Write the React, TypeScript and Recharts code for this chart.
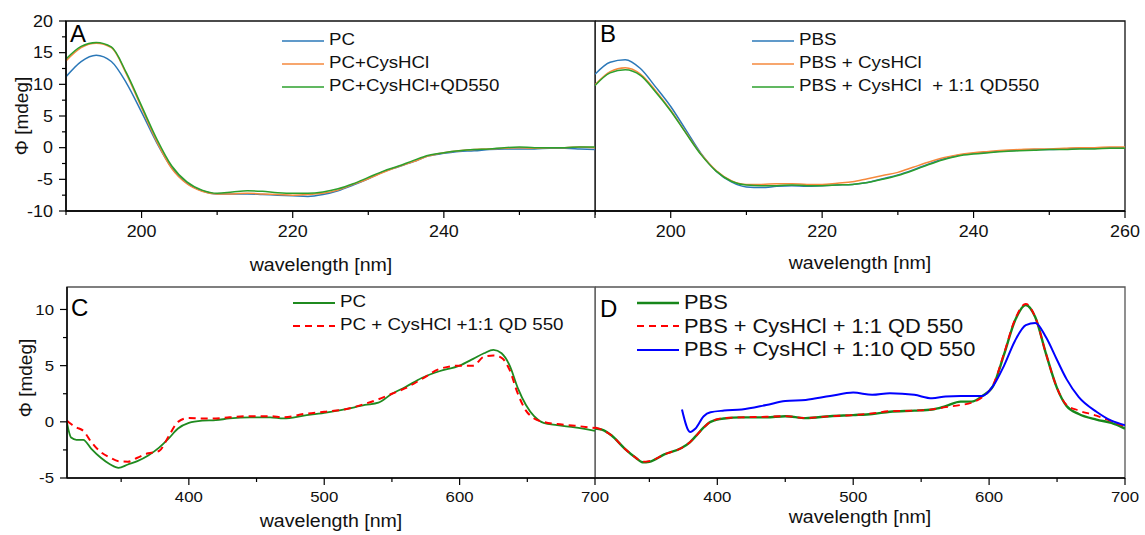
import React from "react";
import { LineChart, Line, XAxis, YAxis, Legend, ReferenceArea } from "recharts";

const FONT = '"Liberation Sans", Arial, Helvetica, sans-serif';
const SX = 1.12; // the source figure is a bit stretched sideways

// ---- far-UV CD, panels A and B (nm) ----
const wlFar = [
  190, 192, 194, 196, 198, 200, 202, 204, 206, 208, 210, 212, 214, 216, 218, 220, 222, 224,
  226, 228, 230, 232, 234, 236, 238, 240, 242, 244, 246, 248, 250, 252, 254, 256, 258, 260,
];

const pcA = [
  11.2, 13.6, 14.6, 13.6, 10.2, 5.6, 0.8, -3.2, -5.6, -6.8, -7.3, -7.3, -7.3, -7.4, -7.5, -7.6, -7.7, -7.4,
  -6.8, -5.9, -4.9, -3.8, -3.0, -2.2, -1.3, -0.9, -0.6, -0.5, -0.3, -0.2, -0.2, -0.2, -0.1, -0.1, -0.2, -0.3,
];
const pcCysA = [
  13.7, 15.8, 16.5, 15.8, 11.6, 6.3, 1.0, -3.3, -5.7, -6.9, -7.3, -7.3, -7.2, -7.3, -7.4, -7.5, -7.4, -7.2,
  -6.7, -5.8, -4.9, -3.9, -3.0, -2.2, -1.3, -0.8, -0.5, -0.3, -0.2, -0.1, 0.0, -0.1, 0.0, 0.0, 0.1, 0.0,
];
const pcCysQdA = [
  14.0, 16.0, 16.6, 15.9, 11.8, 6.6, 1.4, -2.9, -5.4, -6.7, -7.2, -7.0, -6.8, -6.9, -7.1, -7.2, -7.2, -7.0,
  -6.5, -5.7, -4.7, -3.7, -2.9, -2.0, -1.2, -0.8, -0.5, -0.3, -0.2, 0.0, 0.1, 0.0, 0.0, 0.0, 0.1, 0.1,
];

const pbsB = [
  11.6, 13.5, 13.9, 12.5, 9.6, 6.5, 2.8, -0.9, -3.7, -5.4, -6.2, -6.3, -6.1, -6.0, -6.1, -6.0, -5.9, -5.8,
  -5.5, -4.9, -4.3, -3.5, -2.6, -1.8, -1.2, -0.9, -0.7, -0.5, -0.4, -0.3, -0.3, -0.2, -0.1, -0.1, 0.0, 0.0,
];
const pbsCysB = [
  9.9, 12.0, 12.6, 11.6, 9.0, 5.9, 2.4, -1.0, -3.6, -5.2, -5.8, -5.8, -5.7, -5.7, -5.8, -5.8, -5.6, -5.4,
  -4.9, -4.4, -3.9, -3.1, -2.3, -1.6, -1.1, -0.8, -0.6, -0.4, -0.3, -0.2, -0.2, -0.1, 0.0, 0.0, 0.1, 0.1,
];
const pbsCysQdB = [
  9.8, 11.8, 12.3, 11.4, 8.8, 5.8, 2.3, -1.1, -3.7, -5.3, -5.9, -6.0, -6.0, -5.9, -6.0, -6.0, -5.9, -5.8,
  -5.5, -5.0, -4.4, -3.6, -2.7, -1.9, -1.3, -1.0, -0.8, -0.6, -0.5, -0.4, -0.3, -0.3, -0.2, -0.2, -0.1, -0.1,
];

// ---- visible CD, panel C ----
const wlC = [
  310, 313, 317, 322, 328, 335, 342, 348, 355, 362, 370, 378, 385, 392, 400, 410, 420, 430, 445, 460, 470,
  485, 500, 515, 530, 540, 550, 560, 572, 585, 600, 610, 618, 625, 631, 637, 643, 649, 655, 662, 672, 685, 700,
];
const pcC = [
  -0.1, -1.4, -1.6, -1.6, -2.4, -3.2, -3.8, -4.1, -3.8, -3.5, -3.0, -2.3, -1.5, -0.6, -0.1, 0.1, 0.15, 0.3,
  0.4, 0.4, 0.3, 0.55, 0.8, 1.1, 1.5, 1.7, 2.5, 3.1, 3.9, 4.5, 5.0, 5.6, 6.1, 6.4, 6.1, 5.0, 3.0, 1.5, 0.5,
  -0.1, -0.3, -0.5, -0.8,
];
const pcQdC = [
  0.1, -0.2, -0.5, -0.8, -1.8, -2.7, -3.2, -3.5, -3.55, -3.2, -2.8, -2.6, -1.3, 0.0, 0.35, 0.3, 0.3, 0.4,
  0.5, 0.5, 0.4, 0.7, 0.9, 1.1, 1.6, 2.0, 2.5, 3.0, 3.8, 4.7, 5.0, 5.0, 5.8, 5.9, 5.7, 4.6, 2.5, 1.0, 0.3,
  0.0, -0.2, -0.35, -0.55,
];

// ---- visible CD, panel D ----
const wlD = [
  310, 315, 322, 332, 340, 345, 350, 361, 374, 380, 384, 390, 395, 405, 418, 436, 450, 465, 483, 500,
  514, 527, 545, 558, 568, 579, 587, 595, 603, 611, 619, 627, 634, 642, 650, 657, 666, 679, 690, 700,
];
const pbsD = [
  -0.6, -0.7, -1.2, -2.4, -3.2, -3.6, -3.55, -2.9, -2.3, -1.8, -1.3, -0.5, 0.0, 0.3, 0.4, 0.4, 0.5, 0.33, 0.5, 0.6,
  0.7, 0.9, 1.0, 1.1, 1.4, 1.8, 1.8, 2.3, 3.2, 6.0, 9.0, 10.4, 9.3, 6.0, 3.0, 1.4, 0.7, 0.2, -0.1, -0.6,
];
const pbsQd1D = [
  -0.5, -0.7, -1.2, -2.4, -3.2, -3.55, -3.5, -2.9, -2.3, -1.8, -1.3, -0.5, 0.0, 0.35, 0.4, 0.45, 0.5, 0.35, 0.5, 0.6,
  0.75, 0.95, 1.0, 1.1, 1.3, 1.5, 1.7, 2.2, 3.3, 6.1, 9.1, 10.5, 9.3, 6.0, 3.0, 1.5, 1.0, 0.55, 0.05, -0.4,
];
const pbsQd10D = [
  null, null, null, null, null, null, null, null, 1.1, -0.9, -0.6, 0.5, 0.85, 1.0, 1.1, 1.5, 1.85, 1.95, 2.3, 2.6,
  2.4, 2.55, 2.4, 2.1, 2.25, 2.3, 2.3, 2.3, 3.2, 5.0, 7.2, 8.6, 8.8, 7.5, 5.5, 3.8, 2.2, 0.9, 0.1, -0.3,
];

const farTicks = [190, 200, 210, 220, 230, 240, 250, 260];
const visTicks = [350, 400, 450, 500, 550, 600, 650, 700];
const yTicksFar = [-10, -7.5, -5, -2.5, 0, 2.5, 5, 7.5, 10, 12.5, 15, 17.5, 20];
const yTicksVis = [-5, -2.5, 0, 2.5, 5, 7.5, 10];

type Series = {
  key: string;
  name: string;
  color: string;
  width: number;
  dash?: string;
  values: (number | null)[];
};

const seriesA: Series[] = [
  { key: "pc", name: "PC", color: "#2b78b8", width: 1.5, values: pcA },
  { key: "pcCys", name: "PC+CysHCl", color: "#f5893c", width: 1.5, values: pcCysA },
  { key: "pcCysQd", name: "PC+CysHCl+QD550", color: "#2ca02c", width: 1.5, values: pcCysQdA },
];
const seriesB: Series[] = [
  { key: "pbs", name: "PBS", color: "#2b78b8", width: 1.5, values: pbsB },
  { key: "pbsCys", name: "PBS + CysHCl", color: "#f5893c", width: 1.5, values: pbsCysB },
  { key: "pbsCysQd", name: "PBS + CysHCl  + 1:1 QD550", color: "#2ca02c", width: 1.5, values: pbsCysQdB },
];
const seriesC: Series[] = [
  { key: "pc", name: "PC", color: "#1f8a1f", width: 1.8, values: pcC },
  { key: "pcQd", name: "PC + CysHCl +1:1 QD 550", color: "#ff0000", width: 2, dash: "7 5", values: pcQdC },
];
const seriesD: Series[] = [
  { key: "pbs", name: "PBS", color: "#17861a", width: 2.4, values: pbsD },
  { key: "qd1", name: "PBS + CysHCl + 1:1 QD 550", color: "#ff0000", width: 1.8, dash: "7 5", values: pbsQd1D },
  { key: "qd10", name: "PBS + CysHCl + 1:10 QD 550", color: "#0000ff", width: 2, values: pbsQd10D },
];

function XTick(props: any) {
  const { x, y, payload, labels, major, fs, gap } = props;
  const v = payload.value;
  const isMajor = v % major === 0;
  return (
    <g>
      <line x1={x} x2={x} y1={y} y2={y + (isMajor ? 7 : 4)} stroke="#000" strokeWidth={1.2} />
      {labels.includes(v) && (
        <text transform={`translate(${x},${y + gap}) scale(${SX},1)`} textAnchor="middle" fontSize={fs} fill="#111" fontFamily={FONT}>
          {v}
        </text>
      )}
    </g>
  );
}

function YTick(props: any) {
  const { x, y, payload, fs } = props;
  const v = payload.value;
  const isMajor = v % 5 === 0;
  return (
    <g>
      <line x1={x} x2={x - (isMajor ? 7 : 4)} y1={y} y2={y} stroke="#000" strokeWidth={1.2} />
      {isMajor && (
        <text transform={`translate(${x - 13},${y}) scale(${SX},1)`} dy="0.36em" textAnchor="end" fontSize={fs} fill="#111" fontFamily={FONT}>
          {v}
        </text>
      )}
    </g>
  );
}

function LegendBox({ series, fs, row }: { series: Series[]; fs: number; row: number }) {
  return (
    <div style={{ fontFamily: FONT }}>
      {series.map((s) => (
        <div key={s.key} style={{ display: "flex", alignItems: "center", height: row }}>
          <svg width={42} height={6}>
            <line x1={0} x2={42} y1={3} y2={3} stroke={s.color} strokeWidth={s.width} strokeDasharray={s.dash} />
          </svg>
          <span
            style={{
              marginLeft: 5,
              fontSize: fs,
              lineHeight: 1,
              color: "#111",
              display: "inline-block",
              whiteSpace: "pre",
              transform: `scaleX(${SX})`,
              transformOrigin: "left center",
            }}
          >
            {s.name}
          </span>
        </div>
      ))}
    </div>
  );
}

interface PanelProps {
  left: number;
  top: number;
  width: number;
  height: number;
  marginTop: number;
  marginRight: number;
  yWidth: number;
  showY: boolean;
  xAxisHeight: number;
  xDomain: [number, number];
  xTicks: number[];
  xLabels: number[];
  xMajor: number;
  labelGap: number;
  yDomain: [number, number];
  yTicks: number[];
  fs: number;
  frame: string;
  letter: string;
  letterPos: [number, number];
  xTitlePos: [number, number];
  yTitlePos?: [number, number];
  legendPos: { left: number; top: number };
  legendFs: number;
  legendRow: number;
  wl: number[];
  series: Series[];
}

function Panel(p: PanelProps) {
  const data = p.wl.map((w, i) => {
    const row: Record<string, number | null> = { w };
    p.series.forEach((s) => {
      row[s.key] = s.values[i];
    });
    return row;
  });

  return (
    <div style={{ position: "absolute", left: p.left, top: p.top }}>
      <LineChart
        width={p.width}
        height={p.height}
        data={data}
        margin={{ top: p.marginTop, right: p.marginRight, bottom: 0, left: 0 }}
      >
        <ReferenceArea
          x1={p.xDomain[0]}
          x2={p.xDomain[1]}
          y1={p.yDomain[0]}
          y2={p.yDomain[1]}
          fill="none"
          stroke={p.frame}
          strokeWidth={1.3}
          label={() => (
            <text x={p.letterPos[0]} y={p.letterPos[1]} fontSize={24} fill="#000" fontFamily={FONT}>
              {p.letter}
            </text>
          )}
        />
        <XAxis
          dataKey="w"
          type="number"
          domain={p.xDomain}
          ticks={p.xTicks}
          interval={0}
          allowDataOverflow
          height={p.xAxisHeight}
          tickLine={false}
          tickSize={0}
          tickMargin={0}
          axisLine={{ stroke: "#000", strokeWidth: 1.5 }}
          tick={(t: any) => <XTick {...t} labels={p.xLabels} major={p.xMajor} fs={p.fs} gap={p.labelGap} />}
          label={() => (
            <text
              transform={`translate(${p.xTitlePos[0]},${p.xTitlePos[1]}) scale(${SX},1)`}
              textAnchor="middle"
              fontSize={17.5}
              fill="#111"
              fontFamily={FONT}
            >
              wavelength [nm]
            </text>
          )}
        />
        <YAxis
          type="number"
          domain={p.yDomain}
          ticks={p.yTicks}
          interval={0}
          allowDataOverflow
          hide={!p.showY}
          width={p.yWidth}
          tickLine={false}
          tickSize={0}
          tickMargin={0}
          axisLine={{ stroke: "#000", strokeWidth: 1.5 }}
          tick={(t: any) => <YTick {...t} fs={p.fs} />}
          label={() =>
            p.yTitlePos ? (
              <text
                transform={`translate(${p.yTitlePos[0]},${p.yTitlePos[1]}) rotate(-90)`}
                dy="0.36em"
                textAnchor="middle"
                fontSize={19}
                fill="#111"
                fontFamily={FONT}
              >
                Φ [mdeg]
              </text>
            ) : null
          }
        />
        <Legend
          layout="vertical"
          align="center"
          verticalAlign="middle"
          wrapperStyle={{ left: p.legendPos.left, top: p.legendPos.top, width: "auto" }}
          content={() => <LegendBox series={p.series} fs={p.legendFs} row={p.legendRow} />}
        />
        {p.series.map((s) => (
          <Line
            key={s.key}
            type="monotone"
            dataKey={s.key}
            name={s.name}
            stroke={s.color}
            strokeWidth={s.width}
            strokeDasharray={s.dash}
            dot={false}
            activeDot={false}
            isAnimationActive={false}
          />
        ))}
      </LineChart>
    </div>
  );
}

export default function App() {
  return (
    <div
      style={{
        position: "absolute",
        left: 0,
        top: 0,
        width: 1145,
        height: 535,
        background: "#fff",
        fontFamily: FONT,
        overflow: "hidden",
      }}
    >
      <Panel
        left={0}
        top={0}
        width={600}
        height={280}
        marginTop={21}
        marginRight={5}
        yWidth={66}
        showY
        xAxisHeight={69}
        xDomain={[190, 260]}
        xTicks={farTicks}
        xLabels={[200, 220, 240]}
        xMajor={20}
        labelGap={26}
        yDomain={[-10, 20]}
        yTicks={yTicksFar}
        fs={16}
        frame="#111"
        letter="A"
        letterPos={[70, 42]}
        xTitlePos={[321, 271]}
        yTitlePos={[21, 116]}
        legendPos={{ left: 282, top: 29 }}
        legendFs={16.7}
        legendRow={23}
        wl={wlFar}
        series={seriesA}
      />
      <Panel
        left={595}
        top={0}
        width={550}
        height={280}
        marginTop={21}
        marginRight={20}
        yWidth={0}
        showY={false}
        xAxisHeight={69}
        xDomain={[190, 260]}
        xTicks={farTicks}
        xLabels={[200, 220, 240, 260]}
        xMajor={20}
        labelGap={26}
        yDomain={[-10, 20]}
        yTicks={yTicksFar}
        fs={16}
        frame="#111"
        letter="B"
        letterPos={[5, 42]}
        xTitlePos={[265, 269]}
        legendPos={{ left: 157, top: 29 }}
        legendFs={16.8}
        legendRow={23}
        wl={wlFar}
        series={seriesB}
      />
      <Panel
        left={0}
        top={280}
        width={615}
        height={255}
        marginTop={7}
        marginRight={20}
        yWidth={67}
        showY
        xAxisHeight={57}
        xDomain={[310, 700]}
        xTicks={visTicks}
        xLabels={[400, 500, 600, 700]}
        xMajor={100}
        labelGap={24}
        yDomain={[-5, 12]}
        yTicks={yTicksVis}
        fs={15}
        frame="#555"
        letter="C"
        letterPos={[71, 36]}
        xTitlePos={[331, 247]}
        yTitlePos={[25, 98]}
        legendPos={{ left: 293, top: 11 }}
        legendFs={16.8}
        legendRow={23}
        wl={wlC}
        series={seriesC}
      />
      <Panel
        left={595}
        top={280}
        width={550}
        height={255}
        marginTop={7}
        marginRight={20}
        yWidth={0}
        showY={false}
        xAxisHeight={57}
        xDomain={[310, 700]}
        xTicks={visTicks}
        xLabels={[400, 500, 600, 700]}
        xMajor={100}
        labelGap={24}
        yDomain={[-5, 12]}
        yTicks={yTicksVis}
        fs={15}
        frame="#555"
        letter="D"
        letterPos={[5, 37]}
        xTitlePos={[265, 243]}
        legendPos={{ left: 42, top: 11 }}
        legendFs={19.5}
        legendRow={23.5}
        wl={wlD}
        series={seriesD}
      />
    </div>
  );
}
